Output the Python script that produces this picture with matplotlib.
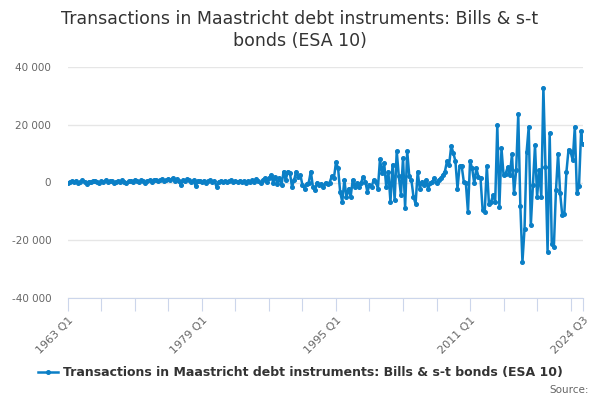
import matplotlib
matplotlib.use('Agg')
import matplotlib.pyplot as plt
import numpy as np

# quarterly data, 1963 Q1 .. 2024 Q3
start_year = 1963
seg_1963_1978 = [-300, 200, 500, 100, 600, -200, 300, 700, 200, -400, 300, 100, 500, 600, 200, -300,
                 400, 300, 700, 100, 400, 600, -100, 300, 500, 200, 800, 300, -200, 400, 600, 300,
                 900, 500, 100, 700, 400, -300, 600, 800, 300, 700, 1000, 500, 800, 1200, 400, 900,
                 1300, 700, 1500, 600, 1100, 400, -800, 900, 500, 1200, 700, 200, 800, -1300, 600, 400]
seg_1979_1987 = [300, 600, -200, 400, 700, 100, 500, -1500, 300, 600, 200, 500, 100, 400, 700, 300,
                 500, 200, 600, 300, 400, -100, 500, 300, 700, 200, 1200, 400, -300, 900, 1500, 300, 1400]
seg_1987_1994 = [2600, 0, 2000, -400, 1400, -900, 3800, 800, 3800, 3400, -1500, 800, 3800, 2000, 2600, -900,
                 -2100, -400, 0, 3800, -1500, -2700, 0, -900, -400, -1500, 0, -400, 0, 2200, 1400]
seg_1995_2011 = [7000, 5000, -3300, -6700, 900, -5000, -2100, -5000, 900, -1500, -300, -1500, 0, 2000, 300, -3300,
                 -800, -1500, 900, 300, -2100, 8000, 3300, 6700, -1500, 3800, -6700, 6200, -6200, 10900, 2100, -4300,
                 8500, -8700, 10900, 2100, 900, -5000, -7400, 3800, -2100, 300, -900, 900, -2100, -300, 300, 1500,
                 -300, 900, 1500, 2600, 3800, 7400, 6200, 12600, 10300, 7400, -2100, 5700, 5700, 300, -300, -10200, 7400]
seg_2011_2024 = [4900, -300, 4900, 2000, 1400, -9600, -10200, 5700, -7300, -6700, -4400, -6700, 19900, -8400,
                 11800, 2500, 3100, 5400, 2500, 9800, -3800, 4300, 23600, -8200, -27500, -16000, 10600, 19300,
                 -14800, -900, 12900, -5000, 4300, -5000, 32900, 5400, -24000, 17000, -21200, -22300, -2700,
                 10000, -3800, -11300, -10800, 3700, 11400, 10600, 7700, 19300, -3800, -1300, 17800, 13500]

values = seg_1963_1978 + seg_1979_1987 + seg_1987_1994 + seg_1995_2011 + seg_2011_2024
quarters = [f"{start_year + i // 4} Q{i % 4 + 1}" for i in range(len(values))]
label_idx = [0, 64, 128, 192, len(values) - 1]
tick_idx = list(range(0, len(values) - 1, 16)) + [len(values) - 1]

series_name = 'Transactions in Maastricht debt instruments: Bills & s-t bonds (ESA 10)'
line_color = '#0b7fc6'

fig = plt.figure(figsize=(6, 4), dpi=100)
ax = fig.add_axes([0.113, 0.255, 0.859, 0.5775])

x = np.arange(len(values))
ax.plot(x, values, color=line_color, lw=1.8, marker='o', ms=2.6, label=series_name, zorder=3)

ax.set_xlim(0, len(values) - 1)
ax.set_ylim(-40000, 40000)
yt = [-40000, -20000, 0, 20000, 40000]
ax.set_yticks(yt)
ax.set_yticklabels([f"{v:,}".replace(',', ' ') for v in yt], color='#666666', fontsize=7.5)
ax.tick_params(axis='y', length=0, pad=12)
ax.yaxis.grid(True, color='#e6e6e6', lw=1)
ax.set_axisbelow(True)

ax.set_xticks(tick_idx)
ax.set_xticklabels([quarters[i] if i in label_idx else '' for i in tick_idx],
                   rotation=45, ha='right', rotation_mode='anchor', color='#666666', fontsize=8)
ax.tick_params(axis='x', length=9, color='#ccd6eb', pad=3)

for s in ['top', 'right', 'left']:
    ax.spines[s].set_visible(False)
ax.spines['bottom'].set_color('#ccd6eb')

fig.suptitle('Transactions in Maastricht debt instruments: Bills & s-t\nbonds (ESA 10)',
             fontsize=12.5, color='#333333', y=0.975, linespacing=1.25)

leg = fig.legend(loc='center', bbox_to_anchor=(0.5, 0.068), frameon=False, handlelength=1.6,
                 prop={'weight': 'bold', 'size': 9}, handletextpad=0.4)
for t in leg.get_texts():
    t.set_color('#333333')

fig.text(0.982, 0.025, 'Source:', ha='right', va='center', fontsize=7.5, color='#666666')

fig.savefig('out.png', dpi=100)
